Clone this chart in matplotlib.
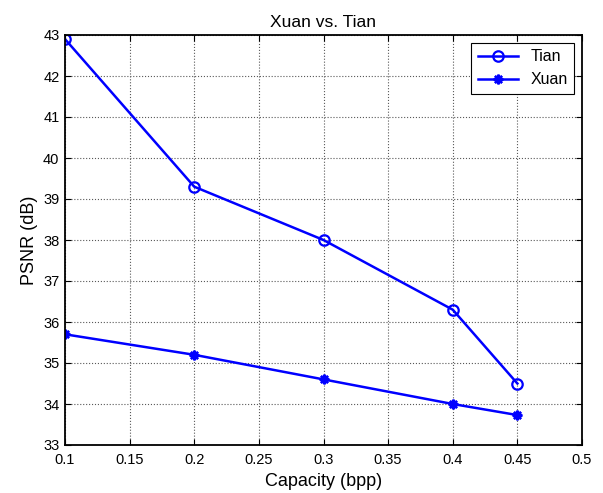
import numpy as np
import matplotlib
matplotlib.use("Agg")
import matplotlib.pyplot as plt

plt.rcParams['font.family'] = ['Liberation Sans', 'DejaVu Sans']

# data
capacity = [0.1, 0.2, 0.3, 0.4, 0.45]
psnr_tian = [42.9, 39.3, 38.0, 36.3, 34.5]
psnr_xuan = [35.7, 35.2, 34.6, 34.0, 33.73]
xticks = [0.1, 0.15, 0.2, 0.25, 0.3, 0.35, 0.4, 0.45, 0.5]
yticks = list(range(33, 44))

fig = plt.figure(figsize=(6.03, 4.93), dpi=100)
ax = fig.add_axes([65 / 603, 48 / 493, 517 / 603, 410 / 493])

ax.plot(capacity, psnr_tian, '-o', color='#0000ff', lw=1.8, ms=7.5,
        mfc='none', mew=1.6, label='Tian')
ax.plot(capacity, psnr_xuan, '-', marker=(8, 2, 0), color='#0000ff',
        lw=1.8, ms=7, mew=1.7, label='Xuan')

ax.set_xlim(0.1, 0.5)
ax.set_ylim(33, 43)
ax.set_xticks(xticks)
ax.set_xticklabels([f'{t:g}' for t in xticks])
ax.set_yticks(yticks)

ax.grid(True, linestyle=':', color='0.35', linewidth=0.8)
ax.tick_params(direction='in', top=True, right=True, length=4,
               labelsize=10.5, width=0.8)
ax.tick_params(axis='x', pad=6)
ax.tick_params(axis='y', pad=4)
for s in ax.spines.values():
    s.set_linewidth(1.3)

ax.set_title('Xuan vs. Tian', fontsize=12.5, pad=6)
ax.set_xlabel('Capacity (bpp)', fontsize=13, labelpad=4)
ax.set_ylabel('PSNR (dB)', fontsize=13, labelpad=4)

leg = ax.legend(loc='upper right', fontsize=11.5, fancybox=False,
                framealpha=1, edgecolor='black', handlelength=2.5,
                borderaxespad=0.5, labelspacing=0.5)
leg.get_frame().set_linewidth(0.8)

fig.savefig('out.png', dpi=100)
